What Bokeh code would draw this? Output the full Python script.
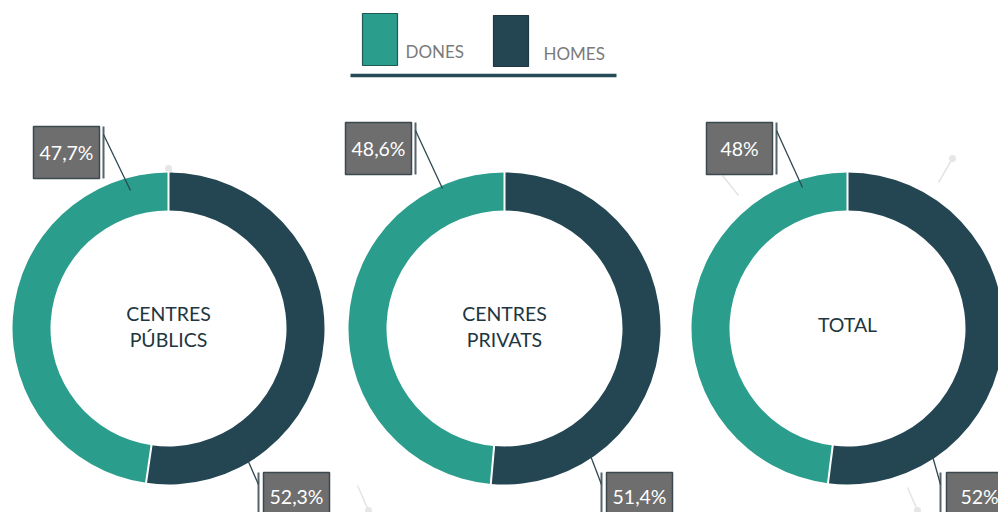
from bokeh.plotting import figure
from bokeh.models import Range1d, ColumnDataSource
from bokeh.core.properties import value
from bokeh.embed import file_html
from bokeh.resources import INLINE
import math

# ---- data ----
categories = ["CENTRES\nPÚBLICS", "CENTRES\nPRIVATS", "TOTAL"]
series_names = ["DONES", "HOMES"]
dones = [47.7, 48.6, 48.0]
homes = [52.3, 51.4, 52.0]
dones_labels = ["47,7%", "48,6%", "48%"]
homes_labels = ["52,3%", "51,4%", "52%"]

# ---- styles / layout (picture pixel coords; y converted below) ----
TEAL = "#2a9d8c"
DARK = "#234652"
BOX = "#6e6e6e"
FONT = "Lato"
W, H = 998, 512

centers_x = [168, 504, 847]
center_y = 328
r_out, r_in = 156, 118

# per-donut label layout offsets relative to center x
top_box = [(-135, 126), (-159, 122), (-141, 122)]      # (left offset, top y)
top_line = [-65, -89, -71]
top_end = [(-38, 190), (-62, 188), (-45, 187)]
bot_box = [(95, 472), (102, 472), (99, 472)]
bot_line = [90, 97, 93]
bot_end = [(75, 450), (84, 450), (84, 452)]
BW, BH = 66, 52


def Y(py):
    return H - py


p = figure(width=W, height=H, output_backend="svg", toolbar_location=None,
           x_range=Range1d(0, W), y_range=Range1d(0, H),
           min_border=0, outline_line_color=None)
p.axis.visible = False
p.grid.visible = False
p.background_fill_color = "white"
p.border_fill_color = "white"

# faint ghost leader lines
ghost_x0 = [170, 357, 938, 722, 907]
ghost_y0 = [170, 485, 182, 175, 487]
ghost_x1 = [188, 368, 952, 738, 917]
ghost_y1 = [195, 510, 158, 195, 510]
p.segment(ghost_x0, [Y(v) for v in ghost_y0], ghost_x1, [Y(v) for v in ghost_y1],
          line_color="#e4e4e4", line_width=1.5)
p.scatter([168, 368, 952, 917], [Y(168), Y(510), Y(158), Y(510)], size=7,
          fill_color="#e6e6e6", line_color=None)

for i, cx in enumerate(centers_x):
    d, h = dones[i], homes[i]
    d_end = 90 + 360 * d / 100
    h_start = 90 - 360 * h / 100
    src = ColumnDataSource(dict(x=[cx, cx], y=[Y(center_y)] * 2,
                                s=[math.radians(90), math.radians(h_start)],
                                e=[math.radians(d_end), math.radians(90)],
                                c=[TEAL, DARK]))
    p.annular_wedge(x="x", y="y", inner_radius=r_in, outer_radius=r_out,
                    start_angle="s", end_angle="e", fill_color="c",
                    line_color=None, source=src)
    # white separators
    for ang in (90, d_end):
        a = math.radians(ang)
        p.segment([cx + (r_in - 1) * math.cos(a)], [Y(center_y) + (r_in - 1) * math.sin(a)],
                  [cx + (r_out + 1) * math.cos(a)], [Y(center_y) + (r_out + 1) * math.sin(a)],
                  line_color="white", line_width=2)

    # category text
    lines = categories[i].split("\n")
    n = len(lines)
    for k, t in enumerate(lines):
        py = center_y - 2 + (k - (n - 1) / 2) * 26
        if n == 1:
            py = center_y - 4
        p.text([cx], [Y(py)], text=[t], text_font=value(FONT), text_font_size="19.5px",
               text_color="#1e3640", text_align="center", text_baseline="middle")

    # top label (DONES)
    bl, bt = top_box[i]
    bx = cx + bl + BW / 2
    by = bt + BH / 2
    p.rect([bx], [Y(by)], BW, BH, fill_color=BOX, line_color="#3c4a50", line_width=1.5)
    p.text([bx], [Y(by)], text=[dones_labels[i]], text_font=value(FONT), text_font_size="19.5px",
           text_color="white", text_align="center", text_baseline="middle")
    lx = cx + top_line[i]
    p.segment([lx], [Y(bt)], [lx], [Y(bt + BH)], line_color="#55656b", line_width=2)
    ex, ey = top_end[i]
    p.segment([lx], [Y(bt + 8)], [cx + ex], [Y(ey)], line_color="#2e4750", line_width=1.3)

    # bottom label (HOMES)
    bl, bt = bot_box[i]
    bx = cx + bl + BW / 2
    by = bt + BH / 2
    p.rect([bx], [Y(by)], BW, BH, fill_color=BOX, line_color="#3c4a50", line_width=1.5)
    p.text([bx], [Y(by - 2)], text=[homes_labels[i]], text_font=value(FONT), text_font_size="19.5px",
           text_color="white", text_align="center", text_baseline="middle")
    lx = cx + bot_line[i]
    p.segment([lx], [Y(bt)], [lx], [Y(bt + BH)], line_color="#55656b", line_width=2)
    ex, ey = bot_end[i]
    p.segment([lx], [Y(bt + 12)], [cx + ex], [Y(ey)], line_color="#2e4750", line_width=1.3)

# legend
p.rect([379.5], [Y(39)], 35, 52, fill_color=TEAL, line_color="#1f5a55", line_width=1.2)
p.rect([510.5], [Y(40.5)], 35, 51, fill_color=DARK, line_color="#1c3842", line_width=1.2)
p.text([405], [Y(51)], text=[series_names[0]], text_font=value(FONT), text_font_size="17px",
       text_color="#7a7a7a", text_align="left", text_baseline="middle")
p.text([543], [Y(53)], text=[series_names[1]], text_font=value(FONT), text_font_size="17px",
       text_color="#7a7a7a", text_align="left", text_baseline="middle")
p.segment([350], [Y(75)], [616], [Y(75)], line_color="#234a55", line_width=3.5)

open("out.html", "w").write(file_html(p, INLINE))
